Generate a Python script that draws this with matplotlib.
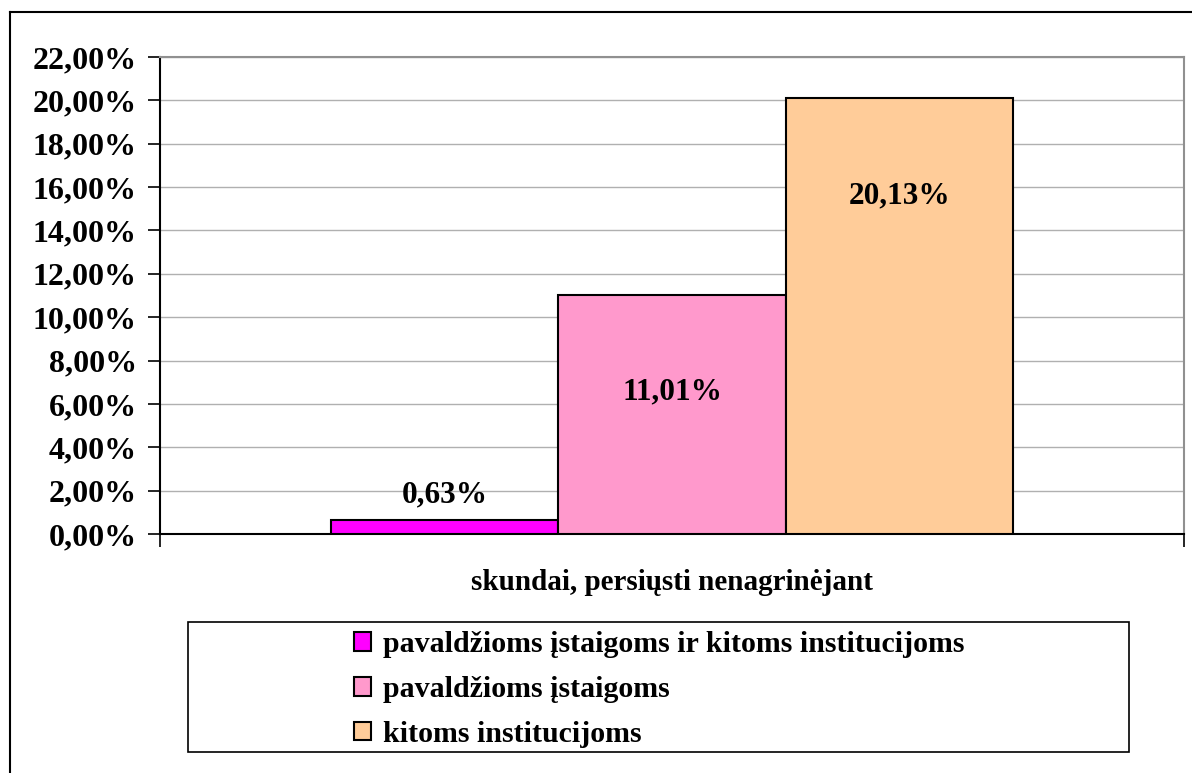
import matplotlib

matplotlib.use("Agg")
import matplotlib.pyplot as plt
from matplotlib.patches import Rectangle
from matplotlib.ticker import FuncFormatter

series = [
    "pavaldžioms įstaigoms ir kitoms institucijoms",
    "pavaldžioms įstaigoms",
    "kitoms institucijoms",
]
values = [0.63, 11.01, 20.13]
category = "skundai, persiųsti nenagrinėjant"
colors = ["#FF00FF", "#FF99CC", "#FFCC99"]
label_y = [1.8, 6.55, 15.6]

W, H = 1192, 773
plt.rcParams["font.family"] = ["Liberation Serif", "DejaVu Serif"]
plt.rcParams["font.weight"] = "bold"

fig = plt.figure(figsize=(W / 100, H / 100), dpi=100)

# outer chart frame (cropped on right/bottom)
fig.add_artist(plt.Line2D([10 / W, 10 / W], [0, 1 - 12 / H], color="black", lw=1.5))
fig.add_artist(plt.Line2D([10 / W, 1], [1 - 12 / H, 1 - 12 / H], color="black", lw=1.5))

ax = fig.add_axes([160 / W, (H - 534) / H, 1024 / W, 477 / H])
width = 0.222
for i, (name, val, col) in enumerate(zip(series, values, colors)):
    x = (i - 1) * width
    ax.bar(x, val, width=width, color=col, edgecolor="black", linewidth=1.5, label=name, zorder=3)
    ax.text(x, label_y[i], f"{val:.2f}%".replace(".", ","), ha="center", va="center",
            fontsize=22.5, fontweight="bold", zorder=4)

ax.set_xlim(-0.5, 0.5)
ax.set_ylim(0, 22)
ax.set_yticks(range(0, 23, 2))
ax.yaxis.set_major_formatter(FuncFormatter(lambda v, _: f"{v:.2f}%".replace(".", ",")))
ax.tick_params(axis="y", labelsize=23, length=9, width=1.2, pad=7.7)
ax.set_xticks([-0.5, 0.5])
ax.set_xticklabels([])
ax.tick_params(axis="x", length=9, width=1.2, direction="out")
ax.grid(axis="y", color="#b0b0b0", lw=1, zorder=0)
for s in ["top", "right"]:
    ax.spines[s].set_color("#909090")
    ax.spines[s].set_linewidth(1.5)
for s in ["left", "bottom"]:
    ax.spines[s].set_color("black")
    ax.spines[s].set_linewidth(1.5)

fig.text(672 / W, (H - 582) / H, category, ha="center", va="center", fontsize=21, fontweight="bold")

# legend box
fig.add_artist(Rectangle((188 / W, (H - 752) / H), 941 / W, 130 / H, transform=fig.transFigure,
                         fill=False, edgecolor="black", lw=1.2))
handles, labels = ax.get_legend_handles_labels()
fig.legend(handles, labels, loc="upper left", bbox_to_anchor=(354 / W, (H - 631) / H),
           frameon=False, fontsize=21.5, handlelength=0.57, handleheight=0.57, handletextpad=0.4,
           labelspacing=0.6, borderpad=0, borderaxespad=0)

fig.savefig("out.png", dpi=100)
